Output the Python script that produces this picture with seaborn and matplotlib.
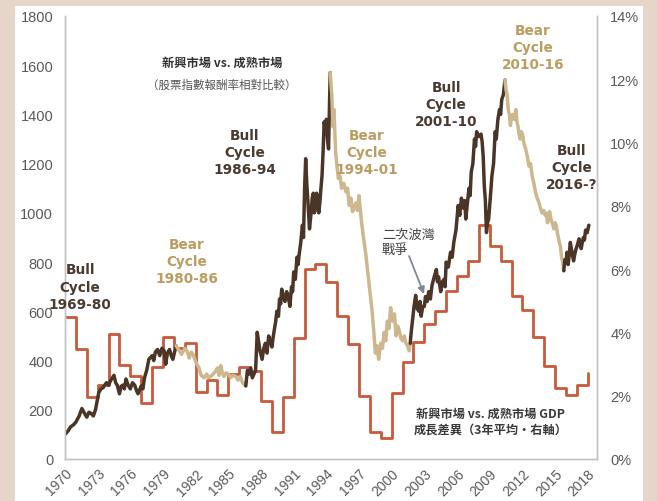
import matplotlib
matplotlib.use("Agg")
import matplotlib.pyplot as plt
from matplotlib.patches import Rectangle
import seaborn as sns
import pandas as pd

# ---------------- data ----------------
bull1_years = [1970.0, 1970.3, 1970.5, 1970.8, 1971.0, 1971.3, 1971.55, 1971.8, 1972.0, 1972.2,
               1972.4, 1972.6, 1972.8, 1973.1, 1973.3, 1973.5, 1973.8, 1974.0, 1974.2, 1974.5,
               1974.65, 1974.8, 1975.0, 1975.15, 1975.3, 1975.45, 1975.6, 1975.8, 1976.0, 1976.2,
               1976.4, 1976.55, 1976.7, 1977.0, 1977.15, 1977.3, 1977.5, 1977.7, 1978.0, 1978.15,
               1978.3, 1978.5, 1978.7, 1978.9, 1979.1, 1979.25, 1979.4, 1979.6, 1979.75, 1979.9,
               1980.2]
bull1_vals = [100, 115, 130, 140, 150, 175, 205, 185, 170, 190,
              185, 175, 200, 270, 285, 290, 310, 300, 320, 340,
              310, 300, 265, 295, 300, 285, 325, 300, 285, 310,
              300, 280, 265, 297, 285, 330, 360, 405, 420, 400,
              435, 445, 420, 450, 440, 385, 430, 445, 420, 405,
              460]

bear1_years = [1980.2, 1980.5, 1980.7, 1981.0, 1981.2, 1981.4, 1981.6, 1981.8, 1982.0, 1982.3,
               1982.5, 1982.8, 1983.0, 1983.2, 1983.5, 1983.8, 1984.0, 1984.15, 1984.3, 1984.45,
               1984.6, 1984.8, 1985.0, 1985.2, 1985.4, 1985.7, 1985.9, 1986.1, 1986.3, 1986.6]
bear1_vals = [460, 440, 425, 450, 440, 410, 435, 420, 395, 370,
              340, 330, 345, 330, 340, 355, 370, 340, 380, 350,
              335, 350, 345, 330, 340, 335, 320, 335, 310, 297]

bull2_years = [1986.6, 1986.75, 1986.9, 1987.05, 1987.2, 1987.35, 1987.5, 1987.65, 1987.8, 1987.9,
               1988.1, 1988.25, 1988.4, 1988.55, 1988.7, 1988.85, 1989.0, 1989.1, 1989.2, 1989.35,
               1989.45, 1989.6, 1989.7, 1989.8, 1989.9, 1990.05, 1990.2, 1990.35, 1990.5, 1990.65,
               1990.8, 1990.9, 1991.0, 1991.15, 1991.3, 1991.4, 1991.5, 1991.65, 1991.8, 1991.9,
               1992.0, 1992.1, 1992.2, 1992.3, 1992.45, 1992.55, 1992.6, 1992.7, 1992.8, 1992.9,
               1993.0, 1993.1, 1993.2, 1993.3, 1993.4, 1993.5, 1993.6, 1993.7, 1993.8, 1993.9,
               1994.0, 1994.1, 1994.2, 1994.35]
bull2_vals = [297, 360, 345, 370, 330, 345, 360, 515, 470, 440,
              405, 450, 470, 430, 500, 480, 455, 490, 520, 560,
              600, 580, 650, 630, 690, 660, 640, 680, 660, 620,
              700, 680, 760, 730, 820, 790, 830, 880, 950, 900,
              1100, 1220, 1120, 1050, 935, 980, 1000, 1060, 1080, 1000,
              1020, 1080, 1050, 1000, 1040, 1100, 1150, 1250, 1370, 1330,
              1380, 1300, 1260, 1570]

bear2_years = [1994.35, 1994.5, 1994.6, 1994.7, 1994.85, 1995.0, 1995.1, 1995.25, 1995.4, 1995.6,
               1995.8, 1995.95, 1996.1, 1996.25, 1996.4, 1996.55, 1996.7, 1996.85, 1997.0, 1997.1,
               1997.2, 1997.35, 1997.5, 1997.6, 1997.7, 1997.85, 1998.0, 1998.1, 1998.2, 1998.35,
               1998.5, 1998.65, 1998.8, 1998.9, 1999.0, 1999.15, 1999.3, 1999.45, 1999.6, 1999.75,
               1999.9, 2000.0, 2000.1, 2000.25, 2000.4, 2000.55, 2000.7, 2000.85, 2001.0, 2001.15,
               2001.3, 2001.45, 2001.6, 2001.7]
bear2_vals = [1570, 1480, 1350, 1420, 1245, 1180, 1140, 1150, 1100, 1120,
              1085, 1100, 1030, 1060, 1005, 1020, 1040, 1010, 1070, 1020,
              975, 920, 870, 840, 800, 740, 680, 640, 600, 520,
              430, 460, 405, 440, 470, 450, 515, 480, 560, 530,
              615, 580, 560, 590, 500, 540, 520, 490, 480, 500,
              470, 460, 440, 470]

bull3_years = [2001.7, 2001.8, 2001.9, 2002.05, 2002.2, 2002.35, 2002.5, 2002.6, 2002.7, 2002.85,
               2003.0, 2003.1, 2003.25, 2003.4, 2003.55, 2003.7, 2003.9, 2004.1, 2004.2, 2004.3,
               2004.5, 2004.65, 2004.8, 2004.9, 2005.0, 2005.2, 2005.4, 2005.55, 2005.7, 2005.9,
               2006.1, 2006.25, 2006.4, 2006.55, 2006.7, 2006.8, 2006.95, 2007.1, 2007.2, 2007.3,
               2007.45, 2007.6, 2007.7, 2007.8, 2008.0, 2008.2, 2008.3, 2008.4, 2008.5, 2008.6,
               2008.7, 2008.8, 2008.9, 2009.05, 2009.2, 2009.35, 2009.5, 2009.6, 2009.75, 2009.9,
               2010.0, 2010.1, 2010.25, 2010.4]
bull3_vals = [470, 520, 560, 620, 665, 610, 600, 640, 580, 620,
              620, 660, 640, 680, 650, 705, 740, 770, 720, 740,
              680, 720, 730, 700, 800, 780, 840, 820, 880, 930,
              1030, 990, 1060, 1020, 1050, 975, 1040, 1100, 1070, 1165,
              1200, 1300, 1270, 1330, 1310, 1320, 1290, 1230, 1110, 1050,
              920, 960, 975, 1060, 1150, 1200, 1330, 1300, 1380, 1420,
              1400, 1460, 1480, 1540]

bear3_years = [2010.4, 2010.5, 2010.6, 2010.7, 2010.8, 2010.9, 2011.0, 2011.1, 2011.25, 2011.4,
               2011.5, 2011.6, 2011.7, 2011.8, 2011.9, 2012.0, 2012.15, 2012.3, 2012.45, 2012.6,
               2012.75, 2012.9, 2013.05, 2013.2, 2013.35, 2013.5, 2013.65, 2013.8, 2013.95, 2014.1,
               2014.2, 2014.3, 2014.4, 2014.5, 2014.65, 2014.8, 2014.9, 2015.0, 2015.1, 2015.25,
               2015.4, 2015.5, 2015.6, 2015.7, 2015.8]
bear3_vals = [1540, 1500, 1480, 1420, 1400, 1355, 1390, 1400, 1380, 1420,
              1370, 1350, 1320, 1300, 1330, 1320, 1280, 1260, 1230, 1190,
              1200, 1150, 1120, 1085, 1060, 1045, 1020, 1000, 1010, 990,
              1000, 960, 980, 1005, 970, 950, 935, 960, 950, 910,
              880, 860, 820, 800, 765]

bull4_years = [2015.8, 2015.9, 2016.0, 2016.1, 2016.2, 2016.3, 2016.4, 2016.55, 2016.7, 2016.8,
               2016.9, 2017.05, 2017.2, 2017.3, 2017.4, 2017.5, 2017.6, 2017.7, 2017.8, 2017.95,
               2018.1]
bull4_vals = [765, 810, 800, 840, 790, 830, 880, 840, 805, 830,
              850, 870, 895, 870, 855, 880, 900, 890, 930, 920,
              950]

gdp_years = list(range(1970, 2019))
gdp_vals = [4.5, 3.48, 1.96, 2.34, 3.95, 2.97, 2.62, 1.77, 2.9, 3.86,
            3.5, 3.67, 2.12, 2.5, 2.02, 2.69, 2.9, 2.78, 1.83, 0.85,
            1.96, 3.82, 6.0, 6.16, 5.59, 4.52, 3.63, 1.99, 0.85, 0.66,
            2.09, 3.07, 3.7, 4.27, 4.68, 5.31, 5.78, 6.26, 7.4, 6.73,
            6.26, 5.15, 4.71, 3.86, 2.94, 2.24, 2.02, 2.34, 2.72]

x_ticks = list(range(1970, 2019, 3))
left_ticks = list(range(0, 1801, 200))
right_ticks = list(range(0, 15, 2))

labels = [
    ("Bull\nCycle\n1969-80", 1971.38, 700, "bull"),
    ("Bear\nCycle\n1980-86", 1981.2, 805, "bear"),
    ("Bull\nCycle\n1986-94", 1986.5, 1247, "bull"),
    ("Bear\nCycle\n1994-01", 1997.7, 1247, "bear"),
    ("Bull\nCycle\n2001-10", 2005.0, 1442, "bull"),
    ("Bear\nCycle\n2010-16", 2012.95, 1674, "bear"),
    ("Bull\nCycle\n2016-?", 2016.55, 1186, "bull"),
]

# ---------------- style ----------------
BG = "#e6d6ca"
DARK = "#4a3526"
TAN = "#cdb78f"
DARK_TXT = "#4a3a30"
TAN_TXT = "#bb9d60"
RED = "#c85a3b"
GRID = "#c4c4c4"
TICK = "#5a5a5a"

sns.set_theme(style="white")
plt.rcParams["font.family"] = ["DejaVu Sans", "Noto Sans CJK TC"]
CJK = ["Noto Sans CJK TC", "DejaVu Sans"]

fig = plt.figure(figsize=(6.57, 5.02), dpi=100, facecolor=BG)
fig.patches.append(Rectangle((15 / 657, 0), 628 / 657, 495 / 502, transform=fig.transFigure,
                             facecolor="white", edgecolor="none", zorder=-5))

ax = fig.add_axes([65 / 657, 42 / 502, 532 / 657, 443 / 502])
ax2 = ax.twinx()
ax.set_zorder(2)
ax2.set_zorder(1)
ax.patch.set_visible(False)
ax2.patch.set_visible(False)

segs = [("bull1", bull1_years, bull1_vals), ("bear1", bear1_years, bear1_vals),
        ("bull2", bull2_years, bull2_vals), ("bear2", bear2_years, bear2_vals),
        ("bull3", bull3_years, bull3_vals), ("bear3", bear3_years, bear3_vals),
        ("bull4", bull4_years, bull4_vals)]
df = pd.concat([pd.DataFrame({"year": y, "value": v, "phase": n}) for n, y, v in segs],
               ignore_index=True)
palette = {n: (DARK if n.startswith("bull") else TAN) for n, _, _ in segs}
sns.lineplot(data=df, x="year", y="value", hue="phase", palette=palette, sort=False,
             estimator=None, legend=False, lw=2.5, ax=ax)

gdf = pd.DataFrame({"year": gdp_years, "gdp": gdp_vals})
sns.lineplot(data=gdf, x="year", y="gdp", color=RED, lw=2.0, drawstyle="steps-post",
             ax=ax2, legend=False)

ax.set_xlim(1970, 2018.85)
ax.set_ylim(0, 1800)
ax2.set_ylim(0, 14)
ax.set_xticks(x_ticks)
ax.set_xticklabels([str(t) for t in x_ticks], rotation=45, ha="right",
                   rotation_mode="anchor", fontsize=10, color=TICK, family="Liberation Sans")
ax.set_yticks(left_ticks)
ax.set_yticklabels([str(t) for t in left_ticks], fontsize=10.5, color=TICK,
                   family="Liberation Sans")
ax2.set_yticks(right_ticks)
ax2.set_yticklabels([f"{t}%" for t in right_ticks], fontsize=10.5, color=TICK,
                    family="Liberation Sans")
ax.tick_params(axis="x", length=0, pad=5)
ax.tick_params(axis="y", length=0, pad=8.5)
ax2.tick_params(axis="y", length=0, pad=9.5)
ax.set_xlabel("")
ax.set_ylabel("")
ax2.set_ylabel("")

for a in (ax, ax2):
    for s in a.spines.values():
        s.set_color(GRID)
        s.set_linewidth(1.0)
    a.spines["top"].set_visible(False)
ax.grid(False)
ax2.grid(False)

for txt, x, y, kind in labels:
    ax.text(x, y, txt, ha="center", va="center", fontsize=9.8, fontweight="bold",
            color=DARK_TXT if kind == "bull" else TAN_TXT, linespacing=1.3, zorder=5)

ax.text(1984.4, 1613, "新興市場 vs. 成熟市場", ha="center", va="center", fontsize=8.8,
        fontweight="bold", color="#333333", family=CJK)
ax.text(1984.4, 1524, "（股票指數報酬率相對比較）", ha="center", va="center", fontsize=8.3,
        color="#555555", family=CJK)
ax.text(1999.1, 882, "二次波灣\n戰爭", ha="left", va="center", fontsize=9.5,
        color="#444444", family=CJK, linespacing=1.15)
ax.annotate("", xy=(2003.06, 660), xytext=(2001.5, 835),
            arrowprops=dict(arrowstyle="-|>", color="#7e8894", lw=1.3, mutation_scale=10))
ax.text(2009.1, 154, "新興市場 vs. 成熟市場 GDP\n成長差異（3年平均・右軸）", ha="center",
        va="center", fontsize=8.8, fontweight="bold", color="#3a3a3a", family=CJK,
        linespacing=1.2)

fig.savefig("out.png", dpi=100, facecolor=BG)
